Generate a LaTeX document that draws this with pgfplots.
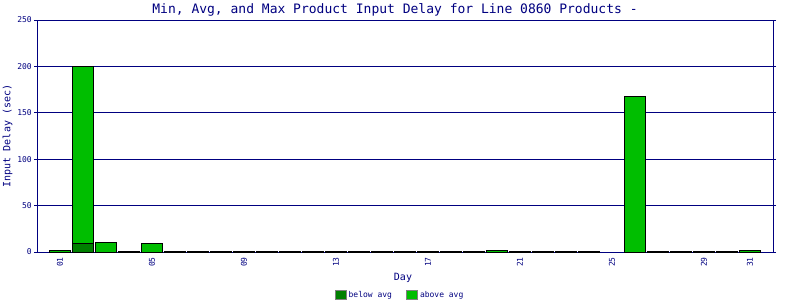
\documentclass[border=0pt]{standalone}
\usepackage{pgfplots}
\pgfplotsset{compat=1.18}
\usepackage{fontspec}
\setmainfont{DejaVu Sans Mono}
\definecolor{navy}{RGB}{0,0,128}
\definecolor{darkg}{RGB}{0,128,0}
\definecolor{brightg}{RGB}{0,190,0}
\begin{document}
\begin{tikzpicture}
\begin{axis}[
  at={(0pt,0pt)}, anchor=south west,
  scale only axis, width=736pt, height=232pt,
  ybar stacked, bar width=21.4pt,
  xmin=0, xmax=32, ymin=0, ymax=250,
  axis line style={navy, line width=1pt},
  xtick={1,5,9,13,17,21,25,29,31},
  xticklabels={01,05,09,13,17,21,25,29,31},
  ytick={0,50,100,150,200,250},
  major x tick style={draw=none},
  major y tick style={navy, line width=1pt},
  tick align=outside, major tick length=3pt,
  ymajorgrids, grid style={navy, line width=1pt},
  xticklabel style={rotate=90, anchor=east, inner sep=2pt, font=\fontsize{8}{8}\selectfont, text=navy},
  yticklabel style={inner sep=2pt, font=\fontsize{8}{8}\selectfont, text=navy},
  /pgf/number format/assume math mode=true,
  title={Min, Avg, and Max Product Input Delay for Line 0860 Products -},
  title style={at={(axis description cs:0.5,1)}, anchor=center, yshift=4pt, xshift=-10pt, font=\fontsize{13}{13}\selectfont, text=navy},
  xlabel={Day},
  xlabel style={at={(axis description cs:0.5,0)}, anchor=center, yshift=-26pt, xshift=-2pt, font=\fontsize{10}{10}\selectfont, text=navy},
  ylabel={Input Delay (sec)},
  ylabel style={at={(axis description cs:0,0.5)}, anchor=center, yshift=29.5pt, font=\fontsize{10}{10}\selectfont, text=navy},
  legend columns=2,
  legend style={draw=none, fill=none, at={(axis description cs:0.5,0)}, anchor=center, yshift=-43pt, xshift=-5pt,
    font=\fontsize{8}{8}\selectfont, text=navy, inner sep=0pt,
    /tikz/every even column/.append style={column sep=12pt}},
  legend image code/.code={\draw[#1, draw=gray, line width=1pt] (0pt,-4.5pt) rectangle (11pt,4.5pt);},
]
\addplot[fill=darkg, draw=black, line width=1pt] coordinates {
(1,0) (2,9.3) (3,0) (4,0) (5,0) (6,0) (7,0) (8,0) (9,0) (10,0)
(11,0) (12,0) (13,0) (14,0) (15,0) (16,0) (17,0) (18,0) (19,0) (20,0)
(21,0) (22,0) (23,0) (24,0) (26,0) (27,0) (28,0) (29,0) (30,0) (31,0)};
\addplot[fill=brightg, draw=black, line width=1pt] coordinates {
(1,2) (2,190.7) (3,10.5) (4,0.6) (5,9.5) (6,0.6) (7,0.6) (8,0.6) (9,0.6) (10,0.6)
(11,0.6) (12,0.6) (13,0.6) (14,0.6) (15,0.6) (16,0.6) (17,0.6) (18,0.6) (19,0.6) (20,2)
(21,0.6) (22,0.6) (23,0.6) (24,0.6) (26,168) (27,0.6) (28,0.6) (29,0.6) (30,0.6) (31,2)};
\legend{below avg, above avg}
\end{axis}
\pgfresetboundingbox
\path (-37pt,-48pt) rectangle (763pt,252pt);
\end{tikzpicture}
\end{document}
